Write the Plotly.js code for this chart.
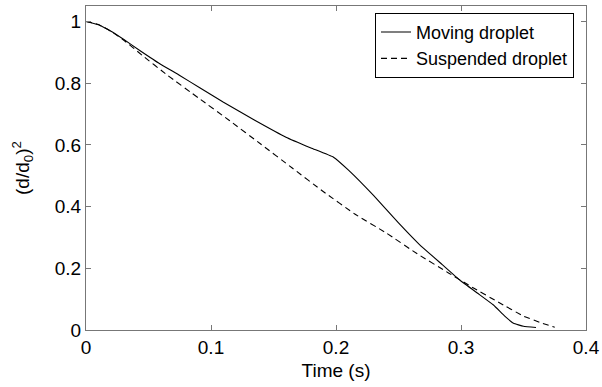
<!DOCTYPE html>
<html>
<head>
<meta charset="utf-8">
<script src="https://cdn.plot.ly/plotly-3.0.1.min.js"></script>
<style>html,body{margin:0;padding:0;background:#fff;}#plot{width:602px;height:387px;}</style>
</head>
<body>
<div id="plot"></div>
<script>
const movingTime = [0, 0.01, 0.02, 0.03, 0.043, 0.059, 0.075, 0.091, 0.11, 0.135, 0.16, 0.18, 0.198, 0.21, 0.23, 0.25, 0.267, 0.285, 0.299, 0.313, 0.326, 0.335, 0.342, 0.35, 0.36];
const movingD2 = [1, 0.989, 0.968, 0.942, 0.906, 0.863, 0.825, 0.785, 0.738, 0.68, 0.625, 0.59, 0.56, 0.518, 0.436, 0.347, 0.276, 0.212, 0.162, 0.12, 0.081, 0.045, 0.022, 0.012, 0.008];
const suspendedTime = [0, 0.01, 0.02, 0.03, 0.045, 0.065, 0.09, 0.115, 0.14, 0.165, 0.19, 0.215, 0.24, 0.265, 0.29, 0.31, 0.33, 0.35, 0.365, 0.375];
const suspendedD2 = [1, 0.99, 0.968, 0.94, 0.89, 0.826, 0.752, 0.678, 0.602, 0.525, 0.448, 0.376, 0.315, 0.247, 0.185, 0.136, 0.09, 0.045, 0.022, 0.009];
const xTicks = [0, 0.1, 0.2, 0.3, 0.4];
const yTicks = [0, 0.2, 0.4, 0.6, 0.8, 1];

const font = {family: 'Liberation Sans, Arial, sans-serif', color: '#000'};
const traces = [
  {x: movingTime, y: movingD2, name: 'Moving droplet', mode: 'lines', line: {color: '#000', width: 1.1, dash: 'solid', shape: 'spline', smoothing: 0.3}},
  {x: suspendedTime, y: suspendedD2, name: 'Suspended droplet', mode: 'lines', line: {color: '#000', width: 1.1, dash: '6px,4px', shape: 'spline', smoothing: 0.3}}
];
const axisCommon = {
  showline: true, linecolor: '#777', linewidth: 1, mirror: 'ticks',
  ticks: 'inside', ticklen: 5, tickcolor: '#777', showgrid: false, zeroline: false,
  tickfont: Object.assign({size: 19}, font)
};
const layout = {
  width: 602, height: 387,
  margin: {l: 86, r: 16, t: 6, b: 57},
  paper_bgcolor: '#fff', plot_bgcolor: '#fff',
  font: font,
  showlegend: true,
  legend: {x: 0.976, y: 0.979, xanchor: 'right', yanchor: 'top', bordercolor: '#000', borderwidth: 1,
    bgcolor: '#fff', font: Object.assign({size: 18}, font), tracegroupgap: 0, itemwidth: 30},
  xaxis: Object.assign({}, axisCommon, {range: [0, 0.4], tickvals: xTicks, ticktext: xTicks.map(String),
    title: {text: 'Time (s)', font: Object.assign({size: 19}, font), standoff: 6}}),
  yaxis: Object.assign({}, axisCommon, {range: [0, 1.05], tickvals: yTicks, ticktext: yTicks.map(String),
    title: {text: '(d/d<sub>0</sub>)<sup>2</sup>', font: Object.assign({size: 19}, font), standoff: 20}})
};
Plotly.newPlot('plot', traces, layout, {displayModeBar: false, staticPlot: true});
</script>
</body>
</html>
